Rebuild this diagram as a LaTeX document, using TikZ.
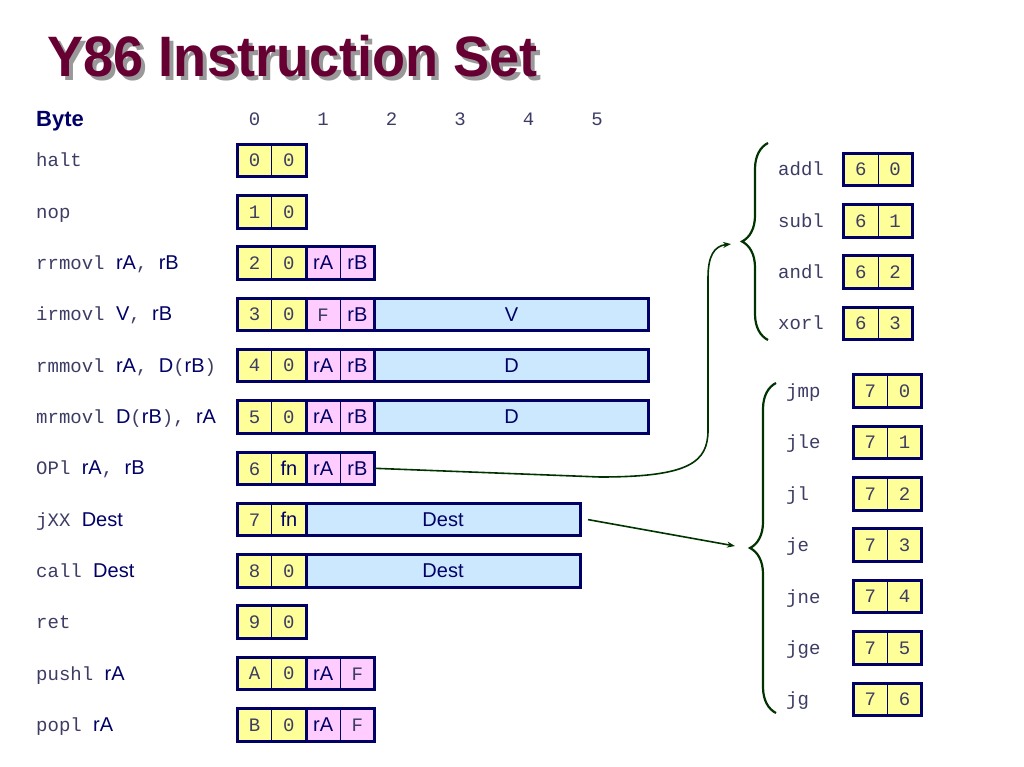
\documentclass[tikz,border=0pt]{standalone}
\usepackage{fontspec}
\setmainfont{Liberation Sans}
\setmonofont{Liberation Mono}
\usepackage{tikz}
\usetikzlibrary{positioning}
\usetikzlibrary{arrows.meta, decorations.pathreplacing}

\definecolor{navy}{RGB}{0,0,102}
\definecolor{ink}{RGB}{60,60,100}
\definecolor{maroon}{RGB}{102,0,51}
\definecolor{opyellow}{RGB}{255,255,153}
\definecolor{regpink}{RGB}{255,204,255}
\definecolor{valblue}{RGB}{204,232,255}
\definecolor{linkgreen}{RGB}{0,51,0}

\newcommand{\mn}[1]{{\fontsize{19}{20}\selectfont\ttfamily\color{ink}#1}}
\newcommand{\opd}[1]{{\color{navy}#1}}
\newcommand{\nibs}[2]{\makebox[34.25pt]{#1}\makebox[34.25pt]{#2}}
\newcommand{\hx}[2]{\nibs{\mn{#1}}{\mn{#2}}}

\begin{document}
\begin{tikzpicture}[
			x=1pt, y=-1pt,
			node distance=0pt,
			every node/.style={font=\fontsize{20}{22}\selectfont},
			lbl/.style={anchor=base west, inner sep=0pt},
			byte/.style={draw=navy, line width=3pt, minimum width=68.5pt, minimum height=32.5pt,
				inner sep=0pt, outer sep=0pt, text=navy},
			opbyte/.style={byte, fill=opyellow,
				path picture={\draw[navy, line width=1pt] (path picture bounding box.north) -- (path picture bounding box.south);}},
			regbyte/.style={opbyte, fill=regpink},
			wordbyte/.style={byte, fill=valblue, minimum width=274pt},
			link/.style={draw=linkgreen, line width=1.6pt, -{Stealth[length=8pt, width=6pt]}},
			brace/.style={draw=linkgreen, line width=2.2pt, decorate, decoration={brace, amplitude=26pt}}
			]
			\useasboundingbox (0,0) rectangle (1024,767);
			
			% Titel
			\node[anchor=base west, text=black!40, font=\fontsize{57}{60}\selectfont\bfseries] (titleshadow) at (48,81)
			{\scalebox{0.95}[1]{Y86 Instruction Set}};
			\node[anchor=base west, text=maroon, font=\fontsize{57}{60}\selectfont\bfseries] (title) at (44,77)
			{\scalebox{0.95}[1]{Y86 Instruction Set}};
			
			% Kopfzeile
			\node[lbl, text=navy, font=\fontsize{22}{24}\selectfont\bfseries] (bytehead) at (36,127) {Byte};
			\node[anchor=base] (b0) at (254.5,126) {\mn{0}};
			\node[anchor=base] (b1) at (323,126) {\mn{1}};
			\node[anchor=base] (b2) at (391.5,126) {\mn{2}};
			\node[anchor=base] (b3) at (460,126) {\mn{3}};
			\node[anchor=base] (b4) at (528.5,126) {\mn{4}};
			\node[anchor=base] (b5) at (597,126) {\mn{5}};
			
			% Befehle links
			\node[lbl] (lhalt) at (36,167) {\mn{halt}};
			\node[opbyte] (halt0) at (271.75,160.5) {\hx{0}{0}};
			
			\node[lbl] (lnop) at (36,218.3) {\mn{nop}};
			\node[opbyte] (nop0) at (271.75,211.8) {\hx{1}{0}};
			
			\node[lbl] (lrr) at (36,269.6) {\mn{rrmovl }\opd{rA}\mn{, }\opd{rB}};
			\node[opbyte] (rr0) at (271.75,263.1) {\hx{2}{0}};
			\node[regbyte, right=of rr0] (rr1) {\nibs{rA}{rB}};
			
			\node[lbl] (lir) at (36,320.9) {\mn{irmovl }\opd{V}\mn{, }\opd{rB}};
			\node[opbyte] (ir0) at (271.75,314.4) {\hx{3}{0}};
			\node[regbyte, right=of ir0] (ir1) {\nibs{\mn{F}}{rB}};
			\node[wordbyte, right=of ir1] (ir2) {V};
			
			\node[lbl] (lrm) at (36,372.2) {\mn{rmmovl }\opd{rA}\mn{, }\opd{D}\mn{(}\opd{rB}\mn{)}};
			\node[opbyte] (rm0) at (271.75,365.7) {\hx{4}{0}};
			\node[regbyte, right=of rm0] (rm1) {\nibs{rA}{rB}};
			\node[wordbyte, right=of rm1] (rm2) {D};
			
			\node[lbl] (lmr) at (36,423.5) {\mn{mrmovl }\opd{D}\mn{(}\opd{rB}\mn{), }\opd{rA}};
			\node[opbyte] (mr0) at (271.75,417.0) {\hx{5}{0}};
			\node[regbyte, right=of mr0] (mr1) {\nibs{rA}{rB}};
			\node[wordbyte, right=of mr1] (mr2) {D};
			
			\node[lbl] (lop) at (36,474.8) {\mn{OPl }\opd{rA}\mn{, }\opd{rB}};
			\node[opbyte] (op0) at (271.75,468.3) {\nibs{\mn{6}}{fn}};
			\node[regbyte, right=of op0] (op1) {\nibs{rA}{rB}};
			
			\node[lbl] (ljx) at (36,526.1) {\mn{jXX }\opd{Dest}};
			\node[opbyte] (jx0) at (271.75,519.6) {\nibs{\mn{7}}{fn}};
			\node[wordbyte, right=of jx0] (jx1) {Dest};
			
			\node[lbl] (lcall) at (36,577.4) {\mn{call }\opd{Dest}};
			\node[opbyte] (call0) at (271.75,570.9) {\hx{8}{0}};
			\node[wordbyte, right=of call0] (call1) {Dest};
			
			\node[lbl] (lret) at (36,628.7) {\mn{ret}};
			\node[opbyte] (ret0) at (271.75,622.2) {\hx{9}{0}};
			
			\node[lbl] (lpush) at (36,680) {\mn{pushl }\opd{rA}};
			\node[opbyte] (push0) at (271.75,673.5) {\hx{A}{0}};
			\node[regbyte, right=of push0] (push1) {\nibs{rA}{\mn{F}}};
			
			\node[lbl] (lpop) at (36,731.3) {\mn{popl }\opd{rA}};
			\node[opbyte] (pop0) at (271.75,724.8) {\hx{B}{0}};
			\node[regbyte, right=of pop0] (pop1) {\nibs{rA}{\mn{F}}};
			
			% Operationen rechts
			\node[lbl] (laddl) at (778,176) {\mn{addl}};
			\node[opbyte] (addl) at (878,169.5) {\hx{6}{0}};
			\node[lbl] (lsubl) at (778,227.3) {\mn{subl}};
			\node[opbyte] (subl) at (878,220.8) {\hx{6}{1}};
			\node[lbl] (landl) at (778,278.6) {\mn{andl}};
			\node[opbyte] (andl) at (878,272.1) {\hx{6}{2}};
			\node[lbl] (lxorl) at (778,329.9) {\mn{xorl}};
			\node[opbyte] (xorl) at (878,323.4) {\hx{6}{3}};
			
			% Spruenge rechts
			\node[lbl] (ljmp) at (786,397.5) {\mn{jmp}};
			\node[opbyte] (jmp) at (887.5,391) {\hx{7}{0}};
			\node[lbl] (ljle) at (786,448.9) {\mn{jle}};
			\node[opbyte] (jle) at (887.5,442.4) {\hx{7}{1}};
			\node[lbl] (ljl) at (786,500.3) {\mn{jl}};
			\node[opbyte] (jl) at (887.5,493.8) {\hx{7}{2}};
			\node[lbl] (lje) at (786,551.7) {\mn{je}};
			\node[opbyte] (je) at (887.5,545.2) {\hx{7}{3}};
			\node[lbl] (ljne) at (786,603.1) {\mn{jne}};
			\node[opbyte] (jne) at (887.5,596.6) {\hx{7}{4}};
			\node[lbl] (ljge) at (786,654.5) {\mn{jge}};
			\node[opbyte] (jge) at (887.5,648) {\hx{7}{5}};
			\node[lbl] (ljg) at (786,705.9) {\mn{jg}};
			\node[opbyte] (jg) at (887.5,699.4) {\hx{7}{6}};
			
			% Klammern
			\coordinate (opTop) at (768,143);
			\coordinate (opBot) at (768,340);
			\coordinate (jTop) at (776,383);
			\coordinate (jBot) at (776,713);
			\draw[brace] (opBot) -- (opTop);
			\draw[brace] (jBot) -- (jTop);
			
			% Pfeile
			\coordinate (opTip) at (731,244);
			\coordinate (jTip) at (735,546);
			\draw[link] (op1.east) -- (600,477)
			.. controls (690,477) and (708,462) .. (708,430) -- (708,278)
			.. controls (708,256) and (714,246) .. (opTip);
			\draw[link] ([xshift=8pt]jx1.east) -- (jTip);
			
		\end{tikzpicture}
\end{document}
